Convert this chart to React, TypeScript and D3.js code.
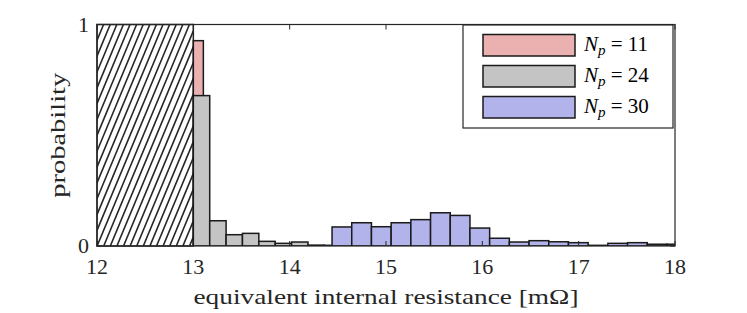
import { useMemo } from 'react';
import * as d3 from 'd3';

// histogram bins (probability per bin)
const redStart = 13;
const redWidth = 0.104;
const redValues = [0.927];

const grayStart = 13;
const grayWidth = 0.17;
const grayValues = [0.679, 0.114, 0.051, 0.057, 0.021, 0.012, 0.018, 0.004, 0.003];

const blueStart = 14.44;
const blueWidth = 0.2045;
const blueValues = [
  0.086, 0.105, 0.087, 0.105, 0.119, 0.15, 0.138, 0.081, 0.035, 0.018, 0.024, 0.019,
  0.015, 0.003, 0.012, 0.015, 0.008, 0.008,
];

const xTicks = [12, 13, 14, 15, 16, 17, 18];
const yTicks = [0, 1];
const hatchRange = [12, 13];

const legendLabels = ['11', '24', '30'];
const colors = ['#ebb1b1', '#c4c4c4', '#b3b3ec'];

const W = 747;
const H = 313;
const FONT = 'Liberation Serif, Times New Roman, serif';
const INK = '#262626';

function bins(start: number, width: number, values: number[]) {
  return values.map((v, i) => ({ x0: start + i * width, x1: start + (i + 1) * width, v }));
}

export default function App() {
  const x = d3.scaleLinear().domain([12, 18]).range([97, 675]);
  const y = d3.scaleLinear().domain([0, 1]).range([246, 24.5]);

  const series = [
    bins(redStart, redWidth, redValues),
    bins(grayStart, grayWidth, grayValues),
    bins(blueStart, blueWidth, blueValues),
  ];

  // diagonal hatch lines for the excluded region
  const hatch = useMemo(() => {
    const left = x(hatchRange[0]);
    const right = x(hatchRange[1]);
    const top = y(1);
    const bottom = y(0);
    const h = bottom - top;
    const run = h / 2.4;
    const step = 6.6;
    const lines = [];
    for (let s = left - run; s < right + step; s += step) {
      lines.push({ x1: s, y1: bottom, x2: s + run, y2: top });
    }
    return lines;
  }, []);

  const [px0, px1] = x.range();
  const [py0, py1] = y.range();

  return (
    <div style={{ position: 'absolute', left: 0, top: 0 }}>
      <svg width={W} height={H} style={{ display: 'block', background: '#fff' }}>
        <defs>
          <clipPath id="plot">
            <rect x={px0} y={py1} width={px1 - px0} height={py0 - py1} />
          </clipPath>
          <clipPath id="hatchClip">
            <rect
              x={x(hatchRange[0])}
              y={y(1)}
              width={x(hatchRange[1]) - x(hatchRange[0])}
              height={y(0) - y(1)}
            />
          </clipPath>
        </defs>

        <g clipPath="url(#hatchClip)">
          {hatch.map((l, i) => (
            <line key={i} {...l} stroke={INK} strokeWidth={1.6} />
          ))}
        </g>
        <rect
          x={x(hatchRange[0])}
          y={y(1)}
          width={x(hatchRange[1]) - x(hatchRange[0])}
          height={y(0) - y(1)}
          fill="none"
          stroke={INK}
          strokeWidth={1.5}
        />

        <g clipPath="url(#plot)">
          {series.map((s, si) => (
            <g key={si}>
              {s.map((b, i) => (
                <rect
                  key={i}
                  x={x(b.x0)}
                  y={y(b.v)}
                  width={x(b.x1) - x(b.x0)}
                  height={y(0) - y(b.v)}
                  fill={colors[si]}
                  stroke="#1a1a1a"
                  strokeWidth={1.5}
                />
              ))}
            </g>
          ))}
        </g>

        {/* axes box */}
        <rect
          x={px0}
          y={py1}
          width={px1 - px0}
          height={py0 - py1}
          fill="none"
          stroke={INK}
          strokeWidth={1.2}
        />
        {xTicks.map((t) => (
          <g key={t}>
            <line x1={x(t)} x2={x(t)} y1={py0} y2={py0 - 5} stroke={INK} />
            <line x1={x(t)} x2={x(t)} y1={py1} y2={py1 + 5} stroke={INK} />
            <text
              x={x(t)}
              y={py0 + 28}
              textAnchor="middle"
              fontFamily={FONT}
              fontSize={22}
              fill={INK}
            >
              {t}
            </text>
          </g>
        ))}
        {yTicks.map((t) => (
          <g key={t}>
            <line x1={px0} x2={px0 + 5} y1={y(t)} y2={y(t)} stroke={INK} />
            <line x1={px1} x2={px1 - 5} y1={y(t)} y2={y(t)} stroke={INK} />
            <text
              x={px0 - 8}
              y={y(t) + 7}
              textAnchor="end"
              fontFamily={FONT}
              fontSize={22}
              fill={INK}
            >
              {t}
            </text>
          </g>
        ))}

        <text
          x={(px0 + px1) / 2}
          y={304}
          textAnchor="middle"
          fontFamily={FONT}
          fontSize={22}
          fill={INK}
          textLength={385}
          lengthAdjust="spacingAndGlyphs"
        >
          equivalent internal resistance [mΩ]
        </text>
        <text
          transform={`translate(65, ${(py0 + py1) / 2}) rotate(-90)`}
          textAnchor="middle"
          fontFamily={FONT}
          fontSize={22}
          fill={INK}
          textLength={125}
          lengthAdjust="spacingAndGlyphs"
        >
          probability
        </text>

        {/* legend */}
        <rect x={463} y={25} width={210} height={103} fill="#fff" stroke={INK} strokeWidth={1.2} />
        {legendLabels.map((lab, i) => (
          <g key={lab}>
            <rect
              x={483}
              y={34.5 + i * 31}
              width={92}
              height={21.5}
              fill={colors[i]}
              stroke="#1a1a1a"
              strokeWidth={1.5}
            />
            <text x={584} y={51 + i * 31} fontFamily={FONT} fontSize={21} fill="#000">
              <tspan fontStyle="italic">N</tspan>
              <tspan fontStyle="italic" fontSize={15} dy={4}>
                p
              </tspan>
              <tspan dy={-4}> = {lab}</tspan>
            </text>
          </g>
        ))}
      </svg>
    </div>
  );
}
